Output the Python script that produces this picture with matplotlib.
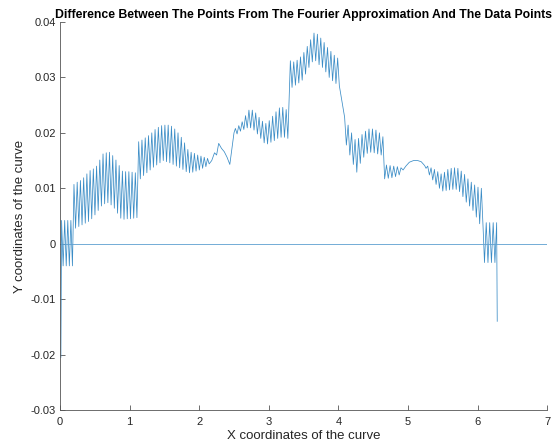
import numpy as np
import matplotlib
matplotlib.use("Agg")
import matplotlib.pyplot as plt

plt.rcParams['font.family'] = ['Liberation Sans', 'DejaVu Sans']

# ---------------- data ----------------
start_x = [0.012]
start_y = [-0.0205]

# Oscillating stretches: x range, peak values (tops) and trough values (bots)
segA_range = (0.022, 0.178)
segA_top = [0.0042, 0.0042, 0.0042, 0.0042]
segA_bot = [-0.0040, -0.0040, -0.0040, -0.0040]

segB_range = (0.200, 1.105)
segB_top = [0.0107, 0.0111, 0.0114, 0.0119, 0.0126, 0.0132, 0.0135, 0.0140, 0.0151, 0.0162,
            0.0164, 0.0165, 0.0159, 0.0151, 0.0141, 0.0131, 0.0130, 0.0130, 0.0129, 0.0128]
segB_bot = [0.0028, 0.0031, 0.0034, 0.0037, 0.0040, 0.0045, 0.0052, 0.0060, 0.0068, 0.0072,
            0.0074, 0.0070, 0.0064, 0.0055, 0.0046, 0.0044, 0.0045, 0.0045, 0.0046, 0.0047]

segC_range = (1.130, 2.143)
segC_top = [0.0184, 0.0187, 0.0191, 0.0195, 0.0200, 0.0206, 0.0210, 0.0213, 0.0214, 0.0214, 0.0212,
            0.0207, 0.0200, 0.0192, 0.0182, 0.0170, 0.0165, 0.0163, 0.0160, 0.0158, 0.0156, 0.0154]
segC_bot = [0.0117, 0.0123, 0.0128, 0.0133, 0.0138, 0.0142, 0.0146, 0.0150, 0.0148, 0.0146, 0.0143,
            0.0140, 0.0137, 0.0134, 0.0130, 0.0128, 0.0129, 0.0131, 0.0133, 0.0136, 0.0139, 0.0144]

smooth1_x = [2.18, 2.22, 2.25, 2.28, 2.32, 2.36, 2.40, 2.44, 2.50]
smooth1_y = [0.0150, 0.0164, 0.0160, 0.0181, 0.0172, 0.0166, 0.0156, 0.0143, 0.0200]

segD_range = (2.520, 3.274)
segD_top = [0.0208, 0.0213, 0.0220, 0.0231, 0.0241, 0.0241, 0.0236, 0.0228,
            0.0221, 0.0217, 0.0222, 0.0230, 0.0238, 0.0245, 0.0246, 0.0242]
segD_bot = [0.0198, 0.0203, 0.0206, 0.0209, 0.0209, 0.0205, 0.0198, 0.0190,
            0.0182, 0.0180, 0.0183, 0.0186, 0.0190, 0.0192, 0.0192, 0.0190]

segE_range = (3.310, 4.014)
segE_top = [0.0330, 0.0328, 0.0331, 0.0337, 0.0345, 0.0356, 0.0368, 0.0380,
            0.0378, 0.0371, 0.0363, 0.0354, 0.0347, 0.0340, 0.0335]
segE_bot = [0.0282, 0.0286, 0.0290, 0.0295, 0.0306, 0.0318, 0.0328, 0.0330,
            0.0323, 0.0318, 0.0310, 0.0300, 0.0294, 0.0289, 0.0285]

segF_range = (4.090, 4.640)
segF_top = [0.0228, 0.0214, 0.0200, 0.0188, 0.0190, 0.0197, 0.0203, 0.0207, 0.0207, 0.0205, 0.0200, 0.0193]
segF_bot = [0.0178, 0.0160, 0.0143, 0.0129, 0.0145, 0.0156, 0.0163, 0.0165, 0.0164, 0.0162, 0.0160]

segG_range = (4.665, 4.900)
segG_bot = [0.0117, 0.0118, 0.0119, 0.0121, 0.0124]
segG_top = [0.0142, 0.0141, 0.0140, 0.0139, 0.0137]

smooth2_x = [4.93, 4.97, 5.02, 5.08, 5.14, 5.19, 5.24]
smooth2_y = [0.0133, 0.0140, 0.0147, 0.0150, 0.0150, 0.0148, 0.0141]

segH_range = (5.260, 6.079)
segH_bot = [0.0136, 0.0124, 0.0115, 0.0107, 0.0100, 0.0095, 0.0096, 0.0097, 0.0098,
            0.0098, 0.0094, 0.0085, 0.0075, 0.0068, 0.0060, 0.0048, 0.0036, 0.0032]
segH_top = [0.0140, 0.0137, 0.0134, 0.0130, 0.0126, 0.0129, 0.0134, 0.0136, 0.0137,
            0.0136, 0.0131, 0.0125, 0.0117, 0.0111, 0.0106, 0.0102, 0.0100]

segI_range = (6.100, 6.275)
segI_bot = [-0.0034, -0.0034, -0.0034, -0.0034]
segI_top = [0.0038, 0.0038, 0.0038, 0.0038]

end_x = [6.2832]
end_y = [-0.0140]

zero_x = [0, 7]
zero_y = [0, 0]

x_ticks = [0, 1, 2, 3, 4, 5, 6, 7]
y_ticks = [-0.03, -0.02, -0.01, 0, 0.01, 0.02, 0.03, 0.04]
y_ticklabels = ['-0.03', '-0.02', '-0.01', '0', '0.01', '0.02', '0.03', '0.04']

title = 'Difference Between The Points From The Fourier Approximation And The Data Points'
xlabel = 'X coordinates of the curve'
ylabel = 'Y coordinates of the curve'


# ---------------- assemble curve ----------------
def zigzag(rng, first, second):
    vals = []
    for i in range(len(first)):
        vals.append(first[i])
        if i < len(second):
            vals.append(second[i])
    return np.linspace(rng[0], rng[1], len(vals)), np.array(vals)


pieces = [
    (np.array(start_x), np.array(start_y)),
    zigzag(segA_range, segA_top, segA_bot),
    zigzag(segB_range, segB_top, segB_bot),
    zigzag(segC_range, segC_top, segC_bot),
    (np.array(smooth1_x), np.array(smooth1_y)),
    zigzag(segD_range, segD_top, segD_bot),
    zigzag(segE_range, segE_top, segE_bot),
    zigzag(segF_range, segF_top, segF_bot),
    zigzag(segG_range, segG_bot, segG_top),
    (np.array(smooth2_x), np.array(smooth2_y)),
    zigzag(segH_range, segH_bot, segH_top),
    zigzag(segI_range, segI_bot, segI_top),
    (np.array(end_x), np.array(end_y)),
]
cx = np.concatenate([p[0] for p in pieces])
cy = np.concatenate([p[1] for p in pieces])

# ---------------- plot ----------------
fig = plt.figure(figsize=(5.56, 4.46), dpi=100)
ax = fig.add_axes([0.108, 0.0807, 0.876, 0.870])

line_color = '#3a8cc6'
ax.plot(cx, cy, color=line_color, lw=0.55)
ax.plot(zero_x, zero_y, color='#5c9fd0', lw=0.6)

ax.set_xlim(0, 7)
ax.set_ylim(-0.03, 0.04)
ax.set_xticks(x_ticks)
ax.set_yticks(y_ticks)
ax.set_yticklabels(y_ticklabels)

axis_col = '#262626'
for s in ['top', 'right']:
    ax.spines[s].set_visible(False)
for s in ['left', 'bottom']:
    ax.spines[s].set_color('#555555')
    ax.spines[s].set_linewidth(0.6)
ax.tick_params(direction='in', length=3.5, width=0.6, colors='#555555',
               labelcolor=axis_col, labelsize=8)
ax.tick_params(axis='x', pad=5)
ax.tick_params(axis='y', pad=3)

ax.set_title(title, fontsize=8.8, fontweight='bold', color='black', pad=3)
ax.set_xlabel(xlabel, fontsize=9.5, color=axis_col, labelpad=2.5)
ax.set_ylabel(ylabel, fontsize=9.5, color=axis_col, labelpad=3)

fig.savefig('out.png', dpi=100)
